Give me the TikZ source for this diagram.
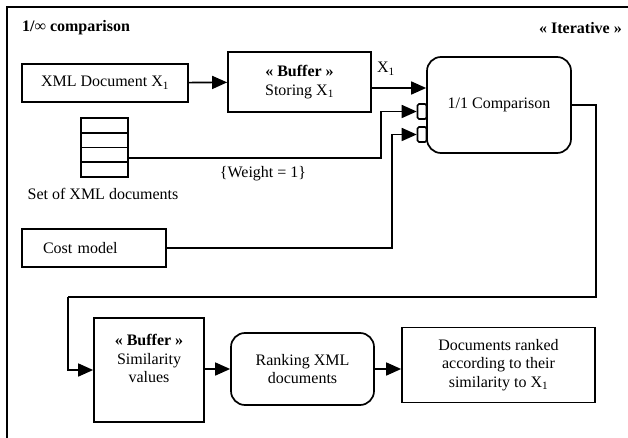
\documentclass[tikz,border=0pt]{standalone}
\usepackage{fontspec}
\setmainfont{Liberation Serif}
\usetikzlibrary{arrows.meta,calc}
\begin{document}
\begin{tikzpicture}[x=1pt,y=-1pt,
  txt/.style={font=\fontsize{16}{18.5}\selectfont, inner sep=0pt},
  box/.style={draw, line width=1.7pt, txt, align=center},
  rbox/.style={box, rounded corners=14pt},
  port/.style={draw, line width=1.6pt, rounded corners=1.5pt, minimum width=9pt, minimum height=15pt, inner sep=0pt},
  cell/.style={draw, line width=1.6pt, minimum width=47pt, minimum height=14.75pt, inner sep=0pt},
  conn/.style={line width=1.6pt},
  arr/.style={conn, -{Triangle[length=15pt,width=13pt]}}
]
\useasboundingbox (0,0) rectangle (628,438);
\draw[line width=1.5pt] (7,438) -- (7,7) -- (628,7);

\node[txt, anchor=west, font=\fontsize{16}{18.5}\selectfont\bfseries] (title) at (22,28) {1/∞ comparison};
\node[txt, anchor=east, font=\fontsize{16}{18.5}\selectfont\bfseries] (iter) at (622,28) {« Iterative »};

\node[box, minimum width=166pt, minimum height=38pt] (xml) at (105,83) {XML Document X\textsubscript{1}};
\node[box, minimum width=143pt, minimum height=60pt] (buf) at (299.5,82) {\textbf{« Buffer »}\\Storing X\textsubscript{1}};
\node[rbox, minimum width=144pt, minimum height=96pt] (cmp) at (499,105) {1/1 Comparison};
\node[port] (p1) at (422,111.5) {};
\node[port] (p2) at (422,134.5) {};
\node[txt] (x1) at (386,69) {X\textsubscript{1}};

\node[cell] (s1) at (104.5,125.4) {};
\node[cell] (s2) at (104.5,140.1) {};
\node[cell] (s3) at (104.5,154.8) {};
\node[cell] (s4) at (104.5,169.5) {};
\coordinate (sout) at (128,158);
\node[txt] (setlbl) at (103,194) {Set of XML documents};
\node[txt] (weight) at (263,174) {\{Weight = 1\}};

\node[box, minimum width=144pt, minimum height=38pt, text width=102pt, align=left] (cost) at (94,248) {Cost model};

\node[box, minimum width=110pt, minimum height=104pt] (sim) at (149,370) {};
\node[txt, anchor=north, align=center] (simtxt) at ($(sim.north)+(0,17)$) {\textbf{« Buffer »}\\Similarity\\values};
\node[rbox, minimum width=143pt, minimum height=72pt] (rank) at (302.5,369) {Ranking XML\\documents};
\node[box, minimum width=193pt, minimum height=75pt] (docs) at (498.5,365) {Documents ranked\\according to their\\similarity to X\textsubscript{1}};

\coordinate (fbR) at (596,297);
\coordinate (fbL) at (68,297);

\draw[arr] (xml) -- (buf);
\draw[arr] (buf.east |- 0,88) -- (cmp.west |- 0,88);
\draw[arr] (sout) -| (381,120) |- (p1.west);
\draw[arr] (cost.east) -| (392,140) |- (p2.west);
\draw[conn] (cmp.east) -| (fbR) -- (fbL);
\draw[arr] (fbL) |- (sim.west);
\draw[arr] (sim.east |- rank.west) -- (rank.west);
\draw[arr] (rank.east) -- (docs.west |- rank.east);
\end{tikzpicture}
\end{document}
